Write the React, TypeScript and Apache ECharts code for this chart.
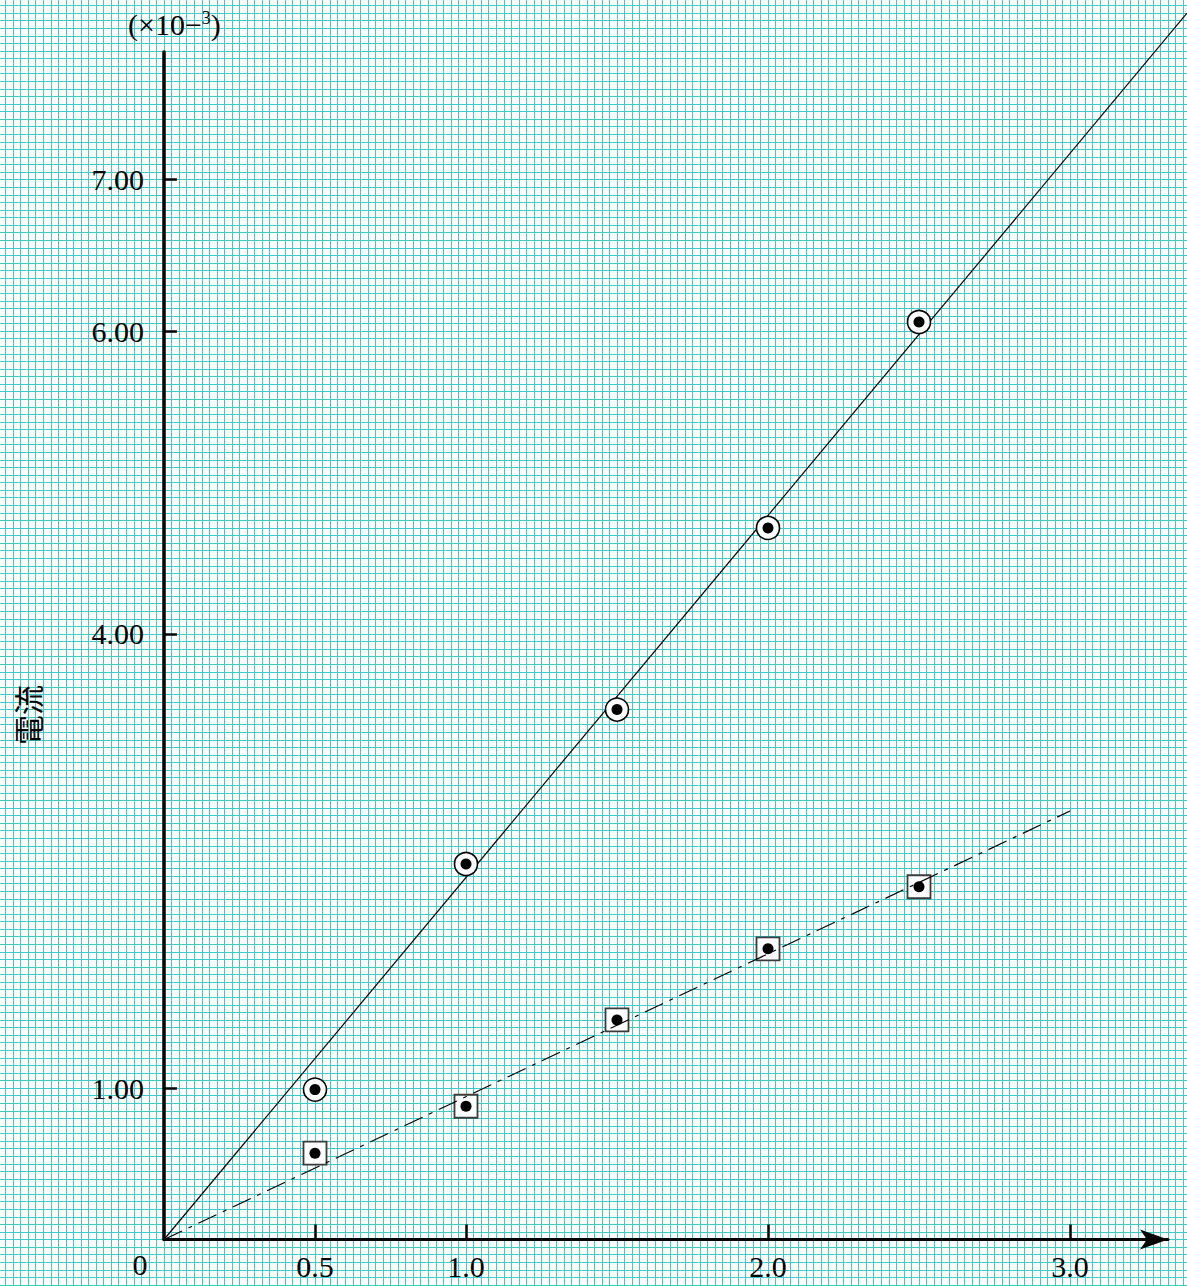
import React, { useEffect, useRef } from 'react';
import * as echarts from 'echarts';

// ---- data ----
const xValues = [0.5, 1.0, 1.5, 2.0, 2.5];
const circleCurrent = [0.99, 2.48, 3.5, 4.7, 6.06];
const squareCurrent = [0.57, 0.88, 1.45, 1.92, 2.33];
const solidFitLine = [[0, 0], [3.3874, 8.1]];
const dashFitLine = [[0, 0], [3.0, 2.83]];
const xTickValues = [0.5, 1.0, 2.0, 3.0];
const yTickValues = [1.0, 4.0, 6.0, 7.0];
const yAxisName = '電流';
const originLabel = '0';

const SERIF = '"Liberation Serif", "Times New Roman", serif';

const hiddenAxis = {
  axisLine: { show: false },
  axisTick: { show: false },
  axisLabel: { show: false },
  splitLine: { show: false },
};

export default function App() {
  const ref = useRef<HTMLDivElement | null>(null);

  useEffect(() => {
    if (!ref.current) return;
    const chart = echarts.init(ref.current, undefined, { renderer: 'svg' });

    const circlePts = xValues.map((x, i) => [x, circleCurrent[i]]);
    const squarePts = xValues.map((x, i) => [x, squareCurrent[i]]);

    const meshLine = { show: true, lineStyle: { color: '#3ccaca', width: 1 } };
    const dataAxes = { xAxisIndex: 2, yAxisIndex: 2 };

    chart.setOption({
      animation: false,
      backgroundColor: '#ffffff',
      grid: [
        // graph-paper mesh covering the whole picture
        { left: -2.1, top: -1.98, width: 1192.9, height: 1294.47, show: false, outerBoundsMode: 'none', containLabel: false },
        // the drawn axes
        { left: 164, top: 52, width: 1004, height: 1187.5, show: false, outerBoundsMode: 'none', containLabel: false },
        // data area (same scale, reaching the picture's top and right edges)
        { left: 164, top: 0, width: 1023, height: 1239.5, show: false, outerBoundsMode: 'none', containLabel: false },
      ],
      xAxis: [
        {
          gridIndex: 0, type: 'value', min: -22, max: 136, interval: 1,
          axisLine: { show: false }, axisTick: { show: false }, axisLabel: { show: false },
          splitLine: meshLine, silent: true,
        },
        {
          gridIndex: 1, type: 'value', min: 0, max: 3.3245,
          axisLine: {
            show: true, onZero: false,
            symbol: ['none', 'arrow'], symbolSize: [15, 28],
            lineStyle: { color: '#000', width: 3 },
          },
          axisTick: {
            show: true, inside: true, length: 15, customValues: xTickValues,
            lineStyle: { color: '#000', width: 2.5 },
          },
          axisLabel: {
            show: true, customValues: xTickValues, margin: 12,
            formatter: (v: number) => v.toFixed(1),
            color: '#000', fontSize: 30, fontFamily: SERIF,
          },
          splitLine: { show: false },
        },
        { gridIndex: 2, type: 'value', min: 0, max: 3.3874, ...hiddenAxis },
      ],
      yAxis: [
        {
          gridIndex: 0, type: 'value', min: -7, max: 164, interval: 1,
          axisLine: { show: false }, axisTick: { show: false }, axisLabel: { show: false },
          splitLine: meshLine, silent: true,
        },
        {
          gridIndex: 1, type: 'value', min: 0, max: 7.8434,
          axisLine: { show: true, onZero: false, lineStyle: { color: '#000', width: 3.5 } },
          axisTick: {
            show: true, inside: true, length: 13, customValues: yTickValues,
            lineStyle: { color: '#000', width: 2.5 },
          },
          axisLabel: {
            show: true, customValues: yTickValues, margin: 20,
            formatter: (v: number) => v.toFixed(2),
            color: '#000', fontSize: 30, fontFamily: SERIF,
          },
          splitLine: { show: false },
        },
        { gridIndex: 2, type: 'value', min: 0, max: 8.1869, ...hiddenAxis },
      ],
      series: [
        {
          type: 'line', ...dataAxes, data: solidFitLine,
          showSymbol: false, silent: true, z: 2,
          lineStyle: { color: '#000', width: 1.2 },
        },
        {
          type: 'scatter', ...dataAxes, data: squarePts,
          symbol: 'rect', symbolSize: 23, silent: true, z: 3,
          itemStyle: { color: '#fff', borderColor: '#3a3a3a', borderWidth: 1.8, opacity: 1 },
        },
        {
          type: 'line', ...dataAxes, data: dashFitLine,
          showSymbol: false, silent: true, z: 4,
          lineStyle: { color: '#000', width: 1.2, type: [20, 7, 4, 7] },
        },
        {
          type: 'scatter', ...dataAxes, data: circlePts,
          symbol: 'circle', symbolSize: 23, silent: true, z: 5,
          itemStyle: { color: '#fff', borderColor: '#000', borderWidth: 1.6, opacity: 1 },
        },
        {
          type: 'scatter', ...dataAxes, data: circlePts,
          symbol: 'circle', symbolSize: 11, silent: true, z: 6,
          itemStyle: { color: '#000', opacity: 1 },
        },
        {
          type: 'scatter', ...dataAxes, data: squarePts,
          symbol: 'circle', symbolSize: 11, silent: true, z: 6,
          itemStyle: { color: '#000', opacity: 1 },
        },
      ],
      graphic: [
        {
          type: 'text', x: 140, y: 1264, z: 10,
          style: { text: originLabel, fill: '#000', font: `30px ${SERIF}`, align: 'center', verticalAlign: 'middle' },
        },
        {
          type: 'text', x: 128, y: 24, z: 10,
          style: {
            text: '{a|(×10−}{b|3}{a|)}',
            align: 'left', verticalAlign: 'middle',
            rich: {
              a: { fontSize: 30, fontFamily: SERIF, fill: '#000', color: '#000' },
              b: { fontSize: 18, fontFamily: SERIF, fill: '#000', color: '#000', verticalAlign: 'top' },
            },
          },
        },
        {
          type: 'text', x: 27, y: 715, rotation: Math.PI / 2, z: 10,
          style: {
            text: yAxisName, fill: '#000',
            font: '30px "Noto Sans CJK JP", "Noto Sans CJK TC", sans-serif',
            align: 'center', verticalAlign: 'middle',
          },
        },
      ],
    });

    return () => chart.dispose();
  }, []);

  return (
    <div
      ref={ref}
      style={{ position: 'absolute', left: 0, top: 0, width: 1187, height: 1286 }}
    />
  );
}
